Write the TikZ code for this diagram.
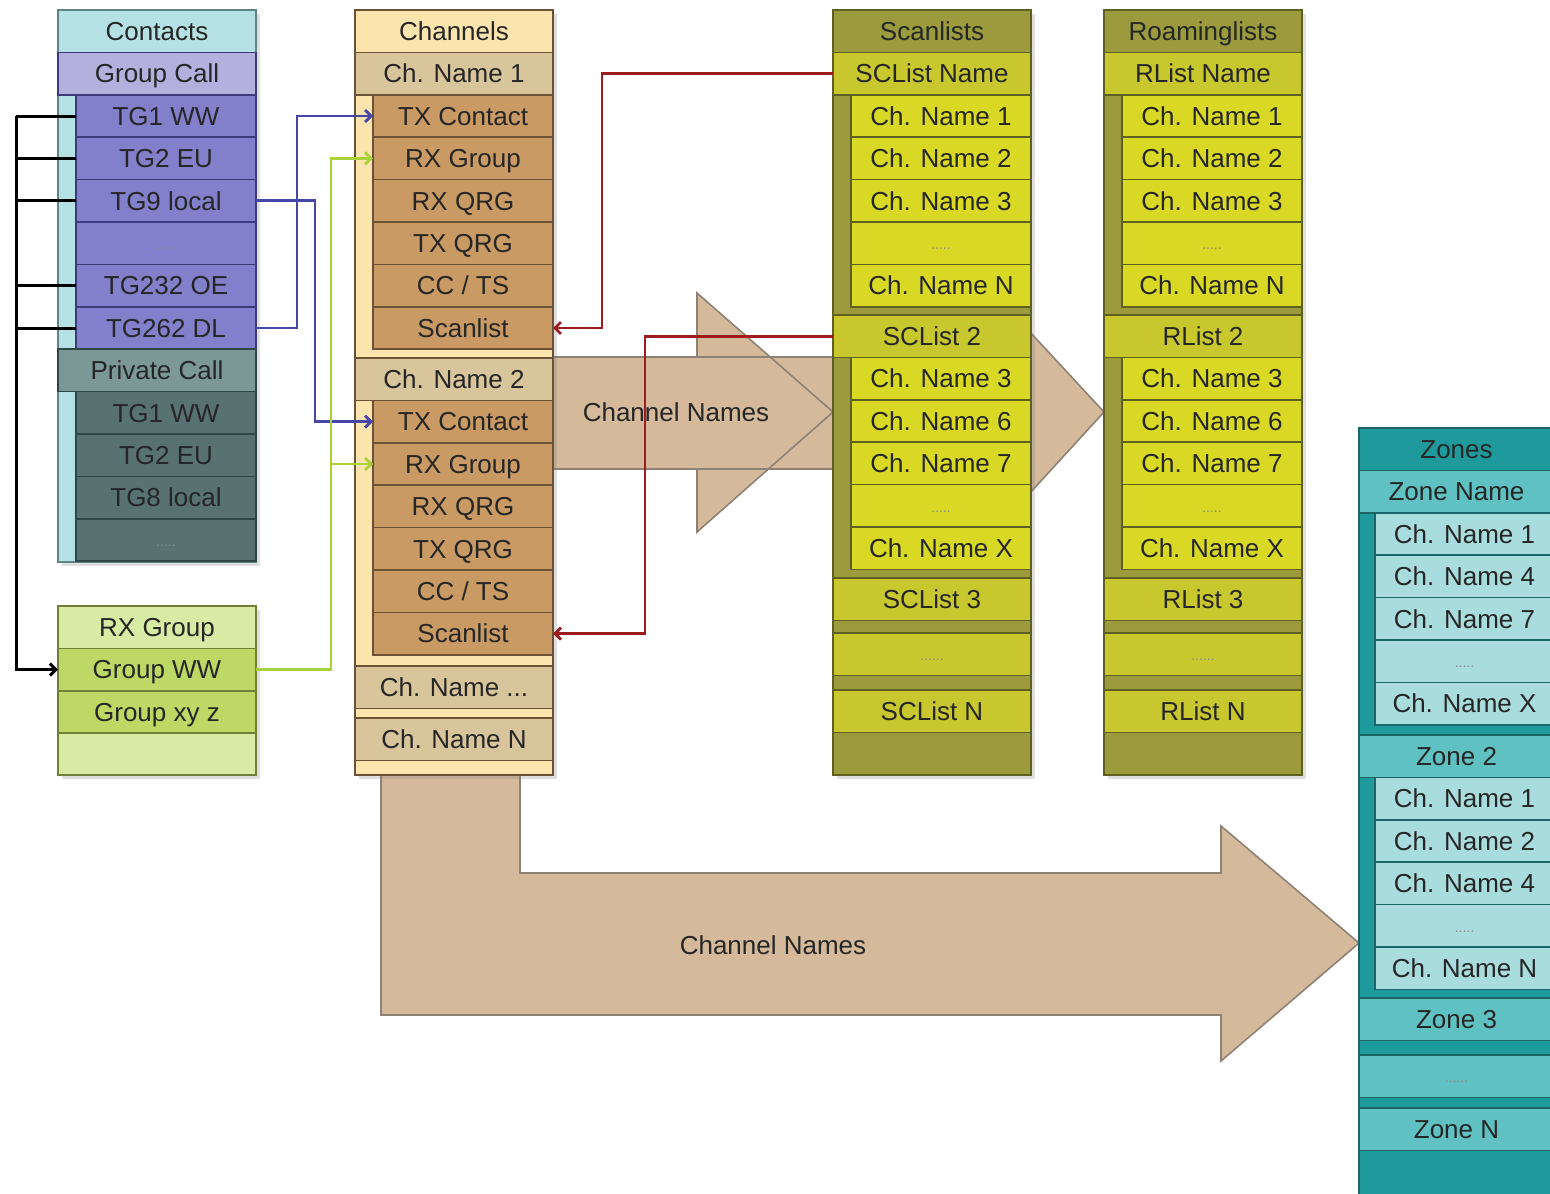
\documentclass[tikz,border=0pt]{standalone}
\usepackage{fontspec}
\setsansfont{Liberation Sans}
\usetikzlibrary{arrows.meta,positioning,shadows}

\definecolor{txtc}{HTML}{262626}
\definecolor{cCnt}{HTML}{B6E1E4}
\definecolor{cCntLn}{HTML}{5E8486}
\definecolor{cGrp}{HTML}{B3B0DE}
\definecolor{cTg}{HTML}{8280CB}
\definecolor{cPurLn}{HTML}{3C3A78}
\definecolor{cPrv}{HTML}{7B9897}
\definecolor{cPrvTg}{HTML}{587272}
\definecolor{cPrvLn}{HTML}{2F4646}
\definecolor{cRxLt}{HTML}{D8EBA5}
\definecolor{cRxGr}{HTML}{BDD865}
\definecolor{cRxLn}{HTML}{6F8039}
\definecolor{cChHd}{HTML}{FCE4AE}
\definecolor{cChNm}{HTML}{D9C59C}
\definecolor{cChSub}{HTML}{CA9A64}
\definecolor{cChLn}{HTML}{6B5234}
\definecolor{cOlive}{HTML}{9B9B3E}
\definecolor{cScNm}{HTML}{C8C72E}
\definecolor{cScSub}{HTML}{D9D925}
\definecolor{cOlLn}{HTML}{5F5F22}
\definecolor{cTeal}{HTML}{1E9A9C}
\definecolor{cZnNm}{HTML}{60C1C3}
\definecolor{cZnSub}{HTML}{A9DCDD}
\definecolor{cZnLn}{HTML}{1D6466}
\definecolor{cArr}{HTML}{D5B99B}
\definecolor{cArrLn}{HTML}{8E8276}
\definecolor{cBlu}{HTML}{4646A8}
\definecolor{cGrn}{HTML}{A9D23A}
\definecolor{cRed}{HTML}{9E1C1C}

\newcommand{\dotrow}{\raisebox{1.5pt}{\scriptsize\color{black!45}.....}}
\newcommand{\dotrowl}{\raisebox{1.5pt}{\scriptsize\color{black!45}......}}

\begin{document}
\begin{tikzpicture}[
  x=0.5pt, y=-0.5pt,
  font=\fontsize{13}{15}\selectfont\sffamily, text=txtc,
  col/.style={draw, line width=0.8pt, inner sep=0pt, outer sep=0pt, minimum width=99pt, anchor=north west,
    drop shadow={opacity=0.25, shadow xshift=2pt, shadow yshift=-2pt}},
  hdr/.style={draw, line width=0.8pt, inner sep=0pt, outer sep=0pt, minimum width=99pt, minimum height=21.2pt,
    text height=9.3pt, text depth=0pt},
  sub/.style={hdr, minimum width=90pt},
  zhdr/.style={hdr, minimum width=97.5pt},
  zsub/.style={hdr, minimum width=89.5pt},
  cnthead/.style={hdr, fill=cCnt, draw=cCntLn},
  gcallc/.style={hdr, fill=cGrp, draw=cPurLn},
  tgc/.style={sub, fill=cTg, draw=cPurLn},
  pcallc/.style={hdr, fill=cPrv, draw=cPrvLn},
  ptc/.style={sub, fill=cPrvTg, draw=cPrvLn},
  rxhd/.style={hdr, fill=cRxLt, draw=cRxLn},
  rxc/.style={hdr, fill=cRxGr, draw=cRxLn},
  chhd/.style={hdr, fill=cChHd, draw=cChLn},
  chname/.style={hdr, fill=cChNm, draw=cChLn},
  chc/.style={sub, fill=cChSub, draw=cChLn},
  olhd/.style={hdr, fill=cOlive, draw=cOlLn},
  olname/.style={hdr, fill=cScNm, draw=cOlLn},
  olc/.style={sub, fill=cScSub, draw=cOlLn},
  znhd/.style={zhdr, fill=cTeal, draw=cZnLn},
  znname/.style={zhdr, fill=cZnNm, draw=cZnLn},
  znc/.style={zsub, fill=cZnSub, draw=cZnLn},
  tip/.style={-{Straight Barb[length=3pt,width=6pt]}},
  blk/.style={line width=1.5pt, draw=black},
  blu/.style={line width=1.4pt, draw=cBlu, tip},
  grn/.style={line width=1.4pt, draw=cGrn, tip},
  rd/.style={line width=1.4pt, draw=cRed, tip},
  bigarr/.style={draw=cArrLn, line width=0.8pt}
]
\useasboundingbox (0,0) rectangle (1550,1193);

% big arrows (behind the columns)
\fill[cArr] (697,293) -- (833,412) -- (697,532) -- cycle;
\fill[cArr] (540,357) rectangle (833,469);
\draw[bigarr] (697,357) -- (697,293) -- (833,412) -- (697,532) -- (697,469);
\draw[bigarr] (833,357) -- (540,357) (540,469) -- (833,469);
\node (cnamesa) at (676,412) {Channel Names};

\filldraw[bigarr, fill=cArr] (1000,331) -- (1029,331) -- (1104,412) -- (1029,494) -- (1000,494);

\filldraw[bigarr, fill=cArr] (381,760) -- (381,1015) -- (1221,1015) -- (1221,1061) -- (1359,943)
  -- (1221,826) -- (1221,873) -- (520,873) -- (520,760);
\node (cnamesb) at (773,945) {Channel Names};

% contacts
\node[col, fill=cCnt, draw=cCntLn, minimum height=276pt] (contacts) at (58,10) {};
\node[cnthead, anchor=north west] (conhd) at (58,10) {Contacts};
\node[gcallc, below=0pt of conhd] (gcall) {Group Call};
\node[tgc, below=0pt of gcall.south east, anchor=north east] (tgww) {TG1 WW};
\node[tgc, below=0pt of tgww] (tgeu) {TG2 EU};
\node[tgc, below=0pt of tgeu] (tgloc) {TG9 local};
\node[tgc, below=0pt of tgloc] (tgdots) {\dotrow};
\node[tgc, below=0pt of tgdots] (tgoe) {TG232 OE};
\node[tgc, below=0pt of tgoe] (tgdl) {TG262 DL};
\node[pcallc, below=0pt of tgdl.south east, anchor=north east] (pcall) {Private Call};
\node[ptc, below=0pt of pcall.south east, anchor=north east] (ptww) {TG1 WW};
\node[ptc, below=0pt of ptww] (pteu) {TG2 EU};
\node[ptc, below=0pt of pteu] (ptloc) {TG8 local};
\node[ptc, below=0pt of ptloc] (ptdots) {\dotrow};

% rx groups
\node[col, fill=cRxLt, draw=cRxLn, minimum height=84.5pt] (rxgroups) at (58,606) {};
\node[rxhd, anchor=north west] (rxhd) at (58,606) {RX Group};
\node[rxc, below=0pt of rxhd] (gww) {Group WW};
\node[rxc, below=0pt of gww] (gxyz) {Group xy z};

% channels
\node[col, fill=cChHd, draw=cChLn, minimum height=382.5pt] (channels) at (355,10) {};
\node[chhd, anchor=north west] (chhd) at (355,10) {Channels};
\node[chname, below=0pt of chhd] (chone) {Ch. Name 1};
\node[chc, below=0pt of chone.south east, anchor=north east] (c1tx) {TX Contact};
\node[chc, below=0pt of c1tx] (c1rx) {RX Group};
\node[chc, below=0pt of c1rx] (c1rq) {RX QRG};
\node[chc, below=0pt of c1rq] (c1tq) {TX QRG};
\node[chc, below=0pt of c1tq] (c1cc) {CC / TS};
\node[chc, below=0pt of c1cc] (c1sc) {Scanlist};
\node[chname, below=4.4pt of c1sc.south east, anchor=north east] (chtwo) {Ch. Name 2};
\node[chc, below=0pt of chtwo.south east, anchor=north east] (c2tx) {TX Contact};
\node[chc, below=0pt of c2tx] (c2rx) {RX Group};
\node[chc, below=0pt of c2rx] (c2rq) {RX QRG};
\node[chc, below=0pt of c2rq] (c2tq) {TX QRG};
\node[chc, below=0pt of c2tq] (c2cc) {CC / TS};
\node[chc, below=0pt of c2cc] (c2sc) {Scanlist};
\node[chname, below=5.6pt of c2sc.south east, anchor=north east] (chmore) {Ch. Name ...};
\node[chname, below=4.8pt of chmore] (chlast) {Ch. Name N};

% scanlists
\node[col, fill=cOlive, draw=cOlLn, minimum height=382.5pt] (scanlists) at (833,10) {};
\node[olhd, anchor=north west] (schd) at (833,10) {Scanlists};
\node[olname, below=0pt of schd] (scone) {SCList Name};
\node[olc, below=0pt of scone.south east, anchor=north east] (s1a) {Ch. Name 1};
\node[olc, below=0pt of s1a] (s1b) {Ch. Name 2};
\node[olc, below=0pt of s1b] (s1c) {Ch. Name 3};
\node[olc, below=0pt of s1c] (s1d) {\dotrow};
\node[olc, below=0pt of s1d] (s1e) {Ch. Name N};
\node[olname, below=4.1pt of s1e.south east, anchor=north east] (sctwo) {SCList 2};
\node[olc, below=0pt of sctwo.south east, anchor=north east] (s2a) {Ch. Name 3};
\node[olc, below=0pt of s2a] (s2b) {Ch. Name 6};
\node[olc, below=0pt of s2b] (s2c) {Ch. Name 7};
\node[olc, below=0pt of s2c] (s2d) {\dotrow};
\node[olc, below=0pt of s2d] (s2e) {Ch. Name X};
\node[olname, below=4.3pt of s2e.south east, anchor=north east] (scthree) {SCList 3};
\node[olname, below=6.3pt of scthree] (scdots) {\dotrowl};
\node[olname, below=7.3pt of scdots] (sclast) {SCList N};

% roaminglists
\node[col, fill=cOlive, draw=cOlLn, minimum height=382.5pt] (roaming) at (1104,10) {};
\node[olhd, anchor=north west] (rlhd) at (1104,10) {Roaminglists};
\node[olname, below=0pt of rlhd] (rlone) {RList Name};
\node[olc, below=0pt of rlone.south east, anchor=north east] (r1a) {Ch. Name 1};
\node[olc, below=0pt of r1a] (r1b) {Ch. Name 2};
\node[olc, below=0pt of r1b] (r1c) {Ch. Name 3};
\node[olc, below=0pt of r1c] (r1d) {\dotrow};
\node[olc, below=0pt of r1d] (r1e) {Ch. Name N};
\node[olname, below=4.1pt of r1e.south east, anchor=north east] (rltwo) {RList 2};
\node[olc, below=0pt of rltwo.south east, anchor=north east] (r2a) {Ch. Name 3};
\node[olc, below=0pt of r2a] (r2b) {Ch. Name 6};
\node[olc, below=0pt of r2b] (r2c) {Ch. Name 7};
\node[olc, below=0pt of r2c] (r2d) {\dotrow};
\node[olc, below=0pt of r2d] (r2e) {Ch. Name X};
\node[olname, below=4.3pt of r2e.south east, anchor=north east] (rlthree) {RList 3};
\node[olname, below=6.3pt of rlthree] (rldots) {\dotrowl};
\node[olname, below=7.3pt of rldots] (rllast) {RList N};

% zones
\node[col, fill=cTeal, draw=cZnLn, minimum width=97.5pt, minimum height=384pt] (zones) at (1359,428) {};
\node[znhd, anchor=north west] (znhd) at (1359,428) {Zones};
\node[znname, below=0pt of znhd] (znone) {Zone Name};
\node[znc, below=0pt of znone.south east, anchor=north east] (z1a) {Ch. Name 1};
\node[znc, below=0pt of z1a] (z1b) {Ch. Name 4};
\node[znc, below=0pt of z1b] (z1c) {Ch. Name 7};
\node[znc, below=0pt of z1c] (z1d) {\dotrow};
\node[znc, below=0pt of z1d] (z1e) {Ch. Name X};
\node[znname, below=5.1pt of z1e.south east, anchor=north east] (zntwo) {Zone 2};
\node[znc, below=0pt of zntwo.south east, anchor=north east] (z2a) {Ch. Name 1};
\node[znc, below=0pt of z2a] (z2b) {Ch. Name 2};
\node[znc, below=0pt of z2b] (z2c) {Ch. Name 4};
\node[znc, below=0pt of z2c] (z2d) {\dotrow};
\node[znc, below=0pt of z2d] (z2e) {Ch. Name N};
\node[znname, below=4.3pt of z2e.south east, anchor=north east] (znthree) {Zone 3};
\node[znname, below=7.3pt of znthree] (zndots) {\dotrowl};
\node[znname, below=5.3pt of zndots] (znlast) {Zone N};

% contact lines
\coordinate (bus) at (16,0);
\draw[blk] (tgww.west) -- (tgww.west -| bus);
\draw[blk] (tgeu.west) -- (tgeu.west -| bus);
\draw[blk] (tgloc.west) -- (tgloc.west -| bus);
\draw[blk] (tgoe.west) -- (tgoe.west -| bus);
\draw[blk] (tgdl.west) -- (tgdl.west -| bus);
\draw[blk, tip] (tgww.west -| bus) |- (gww.west);

\draw[blu] (tgdl.east) -- ++(41,0) |- (c1tx.west);
\draw[blu] (tgloc.east) -- ++(59,0) |- (c2tx.west);

\draw[grn] (gww.east) -- ++(75,0) coordinate (gbus) |- (c1rx.west);
\draw[grn] (c2rx.west -| gbus) -- (c2rx.west);

\draw[rd] (scone.west) -- ++(-231,0) |- (c1sc.east);
\draw[rd] (sctwo.west) -- ++(-188,0) |- (c2sc.east);
\end{tikzpicture}
\end{document}
